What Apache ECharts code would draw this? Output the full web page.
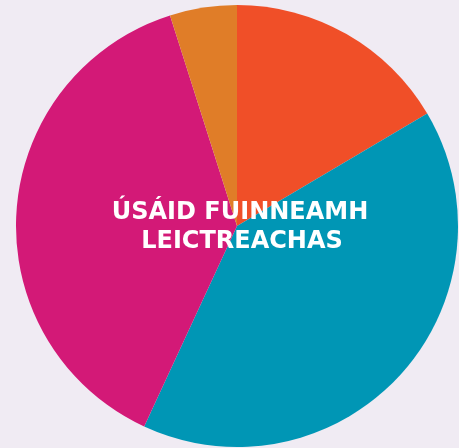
<!DOCTYPE html>
<html>
<head>
<meta charset="utf-8">
<style>
	html, body { margin: 0; padding: 0; background: #f0ebf3; }
	#main { width: 459px; height: 448px; }
</style>
<script src="https://cdn.jsdelivr.net/npm/echarts@6/dist/echarts.min.js"></script>
</head>
<body>
<div id="main"></div>
<script>
// slices, clockwise from 12 o'clock
var names = ['Dearg', 'Gorm', 'Corcra', 'Oráiste'];
var values = [16.5, 40.4, 38.2, 4.9];
var colors = ['#f04f28', '#0096b5', '#d31977', '#e07d28'];
var titleLines = ['ÚSÁID FUINNEAMH', 'LEICTREACHAS'];

var data = names.map(function (n, i) {
	return { name: n, value: values[i], itemStyle: { color: colors[i] } };
});

var myChart = echarts.init(document.getElementById('main'));

// one centred text element per title line
var titleGraphics = titleLines.map(function (t, i) {
	return {
		type: 'text',
		x: 240 + i * 2,
		y: 213 + i * 29,
		z: 100,
		style: {
			text: t,
			fill: '#ffffff',
			font: 'bold 24px "DejaVu Sans", sans-serif',
			textAlign: 'center',
			textVerticalAlign: 'middle'
		}
	};
});

var option = {
	backgroundColor: '#f0ebf3',
	animation: false,
	graphic: titleGraphics,
	series: [{
		type: 'pie',
		center: [237, 226],
		radius: 221,
		startAngle: 90,
		clockwise: true,
		data: data,
		label: { show: false },
		labelLine: { show: false },
		emphasis: { disabled: true },
		itemStyle: { borderWidth: 0 }
	}]
};

myChart.setOption(option);
</script>
</body>
</html>
